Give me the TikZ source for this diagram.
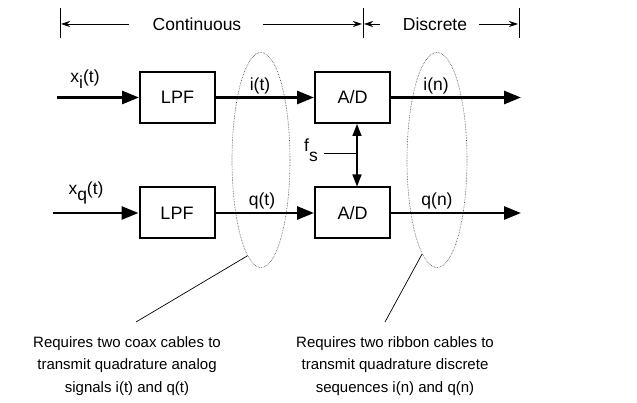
\documentclass[tikz,border=0pt]{standalone}
\usepackage{fontspec}
\setmainfont{Liberation Sans}
\usetikzlibrary{arrows.meta,shapes.geometric,calc}
\begin{document}
\begin{tikzpicture}[x=1pt,y=-1pt,
  lbl/.style={font=\fontsize{17.5}{20}\selectfont, inner sep=0pt},
  blk/.style={draw, line width=2pt, minimum width=75pt, minimum height=51pt, inner sep=0pt, font=\fontsize{18}{20}\selectfont},
  sig/.style={line width=2.8pt, -{Triangle[length=17pt,width=13pt]}},
  brk/.style={line width=0.8pt},
  brka/.style={line width=0.8pt, -{Stealth[length=9pt,width=6pt]}},
  cable/.style={draw=black!75, densely dotted, line width=0.6pt, ellipse, minimum width=58pt, minimum height=215pt, inner sep=0pt},
  note/.style={font=\fontsize{15}{22.5}\selectfont, align=center, inner sep=0pt},
  lead/.style={line width=0.7pt}]
\useasboundingbox (0,0) rectangle (637,403);
% top bracket
\coordinate (b1t) at (60,8);  \coordinate (b1b) at (60,38);
\coordinate (b2t) at (363,8); \coordinate (b2b) at (363,38);
\coordinate (b3t) at (519,8); \coordinate (b3b) at (519,38);
\draw[brk] (b1t) -- (b1b);
\draw[brk] (b2t) -- (b2b);
\draw[brk] (b3t) -- (b3b);
\node[lbl] (cont) at (197,24) {Continuous};
\node[lbl] (disc) at (435,24) {Discrete};
\coordinate (c1) at (129,24); \coordinate (c1e) at (61,24);
\coordinate (c2) at (263,24); \coordinate (c2e) at (362,24);
\coordinate (d1) at (380,24); \coordinate (d1e) at (364,24);
\coordinate (d2) at (479,24); \coordinate (d2e) at (518,24);
\draw[brka] (c1) -- (c1e);
\draw[brka] (c2) -- (c2e);
\draw[brka] (d1) -- (d1e);
\draw[brka] (d2) -- (d2e);
% blocks
\node[blk] (lpf1) at (177.5,97.5) {LPF};
\node[blk] (ad1) at (352.5,97.5) {A/D};
\node[blk] (lpf2) at (177,213) {LPF};
\node[blk] (ad2) at (352.5,213) {A/D};
% cables
\node[cable] (el1) at (261,160) {};
\node[cable, minimum width=60pt] (el2) at (437,160) {};
% signal lines
\coordinate (in1) at (57,97.5);
\coordinate (out1) at (521,97.5);
\coordinate (in2) at (53,213);
\coordinate (out2) at (521,213);
\draw[sig] (in1) -- (lpf1.west);
\draw[sig] (lpf1.east) -- (ad1.west);
\draw[sig] (ad1.east) -- (out1);
\draw[sig] (in2) -- (lpf2.west);
\draw[sig] (lpf2.east) -- (ad2.west);
\draw[sig] (ad2.east) -- (out2);
% labels
\node[lbl] (xi) at (85,79) {x\raisebox{-6pt}{i}(t)};
\node[lbl] (it) at (260,86) {i(t)};
\node[lbl] (in) at (436,86) {i(n)};
\node[lbl] (xq) at (86,193) {x\raisebox{-6pt}{q}(t)};
\node[lbl] (qt) at (262,201) {q(t)};
\node[lbl] (qn) at (437,201) {q(n)};
% sampling clock
\coordinate (fa) at ($(ad1.south)+(4.5,0)$);
\coordinate (fb) at ($(ad2.north)+(4.5,0)$);
\coordinate (fm) at (357,154);
\coordinate (ft) at (324,154);
\draw[line width=1.5pt, {Triangle[length=12pt,width=9pt]}-{Triangle[length=12pt,width=9pt]}] (fa) -- (fb);
\draw[line width=1pt] (ft) -- (fm);
\node[lbl] (fs) at (311,150) {f\raisebox{-10pt}{s}};
% notes
\node[note] (n1) at (127,366) {Requires two coax cables to\\transmit quadrature analog\\signals i(t) and q(t)};
\node[note] (n2) at (395,366) {Requires two ribbon cables to\\transmit quadrature discrete\\sequences i(n) and q(n)};
\coordinate (l1) at (136,322);
\coordinate (l2) at (385,322);
\draw[lead] (l1) -- (el1.262);
\draw[lead] (l2) -- (el2.261);
\end{tikzpicture}
\end{document}
